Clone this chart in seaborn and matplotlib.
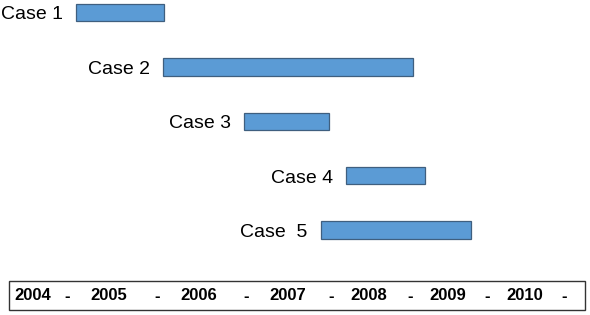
import numpy as np
import pandas as pd
import matplotlib
matplotlib.use('Agg')
import matplotlib.pyplot as plt
import seaborn as sns
from matplotlib.patches import Rectangle

# 데이터
cases = ['Case 1', 'Case 2', 'Case 3', 'Case 4', 'Case  5']
start = [2004.50, 2005.57, 2006.56, 2007.81, 2007.50]
end = [2005.58, 2008.63, 2007.60, 2008.78, 2009.34]
years = ['2004', '2005', '2006', '2007', '2008', '2009', '2010']

# 아래 연도 상자 안 글자 위치 (픽셀)
year_px = [33, 109, 199, 288, 369, 448, 525]
dash_px = [67, 157, 246, 331, 410, 487, 564]

sns.set_theme(style='white')
plt.rcParams['font.family'] = ['Liberation Sans', 'DejaVu Sans']

fig = plt.figure(figsize=(5.9, 3.15), dpi=100)
ax = fig.add_axes([0, 0, 1, 1])

df = pd.DataFrame({'case': cases, 'start': start, 'end': end})
sns.barplot(data=df, x='end', y='case', orient='h', color='#5B9BD5', saturation=1,
            width=0.32, edgecolor='#3F5F7F', linewidth=0.9, errorbar=None, ax=ax)

# 막대 시작점 옮기기
for p, s, e in zip(ax.patches, start, end):
    p.set_x(s)
    p.set_width(e - s)

for i, (c, s) in enumerate(zip(cases, start)):
    ax.annotate(c, (s, i), xytext=(-9.5, -5), textcoords='offset points',
                ha='right', va='baseline', fontsize=14, color='black')

ax.set_xlim(2003.571, 2010.796)
ax.set_ylim(5.56, -0.23)
ax.axis('off')

# 연도 상자
ax.add_patch(Rectangle((9 / 590, 1 - 310 / 315), 576 / 590, 29 / 315,
                       transform=ax.transAxes, fill=False, edgecolor='#333333', lw=1))
for y, px in zip(years, year_px):
    ax.text(px / 590, 1 - 296 / 315, y, transform=ax.transAxes, ha='center', va='center',
            fontsize=12, fontweight='bold', color='black')
for px in dash_px:
    ax.text(px / 590, 1 - 296 / 315, '-', transform=ax.transAxes, ha='center', va='center',
            fontsize=12, fontweight='bold', color='black')

fig.savefig('out.png', dpi=100)
